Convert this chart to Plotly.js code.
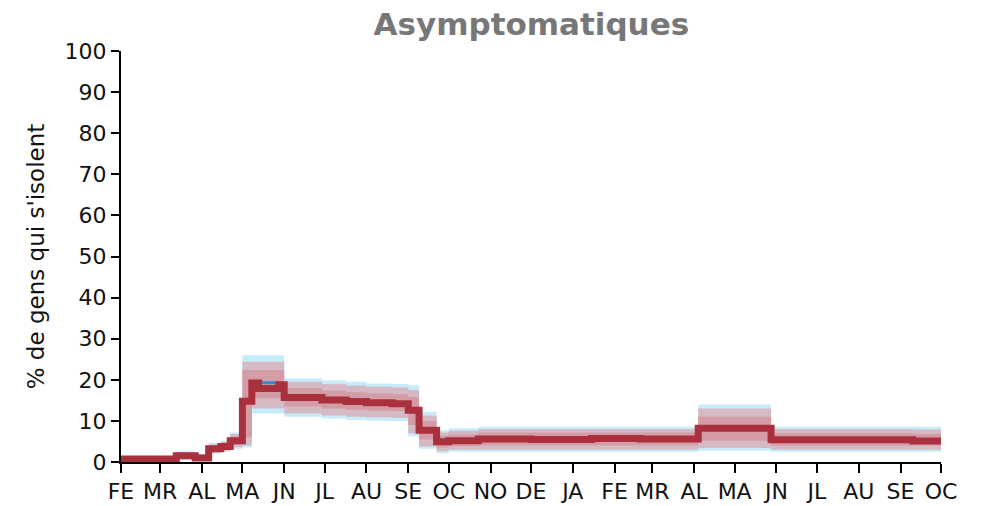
<!DOCTYPE html>
<html>
<head>
<meta charset="utf-8">
<script src="https://cdn.plot.ly/plotly-3.0.1.min.js"></script>
<style>html,body{margin:0;padding:0;background:#fff;}#chart{width:995px;height:506px;}</style>
</head>
<body>
<div id="chart"></div>
<script>
// Step start dates (last entry closes the final step)
const dates = ['2020-02-01','2020-03-13','2020-03-27','2020-04-06','2020-04-15','2020-04-22','2020-05-01','2020-05-08','2020-05-13','2020-05-28','2020-06-01','2020-06-29','2020-07-17','2020-08-01','2020-08-20','2020-09-01','2020-09-09','2020-09-22','2020-10-01','2020-10-23','2020-12-01','2021-01-15','2021-02-20','2021-04-04','2021-05-28','2021-09-10','2021-10-01'];
// Median of the main (red) series
const redMedian  = [0.7,1.5,1.0,3.2,3.8,5.2,14.8,19.2,17.9,18.8,15.7,15.1,14.7,14.4,14.2,12.6,7.7,4.9,5.2,5.6,5.5,5.7,5.6,8.2,5.4,5.1,5.1];
// Median of the second (blue) series
const blueMedian = [0.7,1.5,1.0,3.2,3.8,5.2,14.8,19.2,19.3,18.8,15.9,15.1,14.9,14.6,14.0,12.2,7.7,5.0,5.4,5.6,5.6,5.6,5.7,8.3,5.5,5.2,5.2];
// Outer (light blue) band
const blueLow  = [0.0,0.5,0.2,2.0,2.5,3.2,3.5,11.8,11.8,11.8,11.0,10.6,10.2,10.0,10.0,6.2,3.2,2.1,2.5,2.5,2.5,2.5,2.5,2.8,2.5,2.5,2.5];
const blueHigh = [1.0,2.6,2.0,4.6,5.2,7.2,26.0,26.0,26.0,26.0,20.4,19.9,19.5,19.1,19.0,18.7,12.2,7.7,8.2,8.6,8.6,8.6,8.6,14.0,8.6,8.6,8.6];
// Middle (pink) band
const pinkLow  = [0.1,0.7,0.4,2.3,2.8,3.6,4.0,13.0,13.0,13.0,11.8,11.3,11.0,10.8,10.7,7.0,3.8,2.6,3.0,3.0,3.0,3.0,3.0,3.4,3.0,3.0,3.0];
const pinkHigh = [0.9,2.4,1.8,4.3,4.9,6.8,24.4,24.4,24.4,24.4,19.5,19.0,18.6,18.3,18.2,17.5,11.3,7.2,7.6,8.0,8.0,8.0,8.0,13.0,8.0,7.9,7.9];
// Inner (darker pink) band
const innerLow  = [0.3,1.0,0.6,2.7,3.2,4.2,6.0,15.5,15.5,15.5,13.5,13.0,12.7,12.5,12.4,9.0,5.5,3.5,3.9,4.1,4.1,4.1,4.1,5.2,4.0,4.0,4.0];
const innerHigh = [0.8,2.1,1.5,3.8,4.5,6.2,22.4,22.4,22.4,22.4,18.0,17.4,17.0,16.7,16.5,15.8,10.0,6.4,6.7,7.2,7.2,7.2,7.2,11.0,7.0,6.8,6.8];
// Axis ticks
const tickDates = ['2020-02-01','2020-03-01','2020-04-01','2020-05-01','2020-06-01','2020-07-01','2020-08-01','2020-09-01','2020-10-01','2020-11-01','2020-12-01','2021-01-01','2021-02-01','2021-03-01','2021-04-01','2021-05-01','2021-06-01','2021-07-01','2021-08-01','2021-09-01','2021-10-01'];
const tickLabels = ['FE','MR','AL','MA','JN','JL','AU','SE','OC','NO','DE','JA','FE','MR','AL','MA','JN','JL','AU','SE','OC'];
const yTicks = [0,10,20,30,40,50,60,70,80,90,100];

const FONT = '"DejaVu Sans", Lato, sans-serif';

function band(lo, hi, color) {
  return [
    {x: dates, y: lo, type: 'scatter', mode: 'lines', line: {shape: 'hv', width: 0, color: color}, hoverinfo: 'skip', showlegend: false},
    {x: dates, y: hi, type: 'scatter', mode: 'lines', fill: 'tonexty', fillcolor: color, line: {shape: 'hv', width: 0, color: color}, hoverinfo: 'skip', showlegend: false}
  ];
}

const traces = [].concat(
  band(blueLow, blueHigh, 'rgb(198,236,250)'),
  band(pinkLow, pinkHigh, 'rgb(213,186,197)'),
  band(innerLow, innerHigh, 'rgb(212,156,164)'),
  [
    {x: dates, y: blueMedian, type: 'scatter', mode: 'lines', line: {shape: 'hv', width: 3, color: 'rgb(45,140,210)'}, showlegend: false},
    {x: dates, y: redMedian, type: 'scatter', mode: 'lines', line: {shape: 'hv', width: 7, color: 'rgb(170,48,62)'}, showlegend: false}
  ]
);

const layout = {
  width: 995, height: 506,
  margin: {l: 121, r: 54, t: 51, b: 44},
  paper_bgcolor: '#fff', plot_bgcolor: '#fff',
  font: {family: FONT, color: '#111'},
  title: {text: '<b>Asymptomatiques</b>', font: {size: 31, color: '#777', family: FONT}, x: 0.534, xanchor: 'center', y: 0.952, yanchor: 'middle'},
  showlegend: false,
  xaxis: {
    type: 'date', range: ['2020-02-01', '2021-10-01'],
    tickmode: 'array', tickvals: tickDates, ticktext: tickLabels,
    showline: true, linecolor: '#000', linewidth: 2,
    ticks: 'outside', ticklen: 9, tickwidth: 2, tickcolor: '#000',
    tickfont: {size: 22, color: '#111', family: FONT},
    showgrid: false, zeroline: false, fixedrange: true
  },
  yaxis: {
    range: [0, 100], tickmode: 'array', tickvals: yTicks,
    showline: true, linecolor: '#000', linewidth: 2,
    ticks: 'outside', ticklen: 8, tickwidth: 2, tickcolor: '#000',
    tickfont: {size: 22, color: '#111', family: FONT},
    showgrid: false, zeroline: false,
    title: {text: "% de gens qui s'isolent", font: {size: 23, color: '#111', family: FONT}, standoff: 14}
  }
};

Plotly.newPlot('chart', traces, layout, {displayModeBar: false, staticPlot: true});
</script>
</body>
</html>
